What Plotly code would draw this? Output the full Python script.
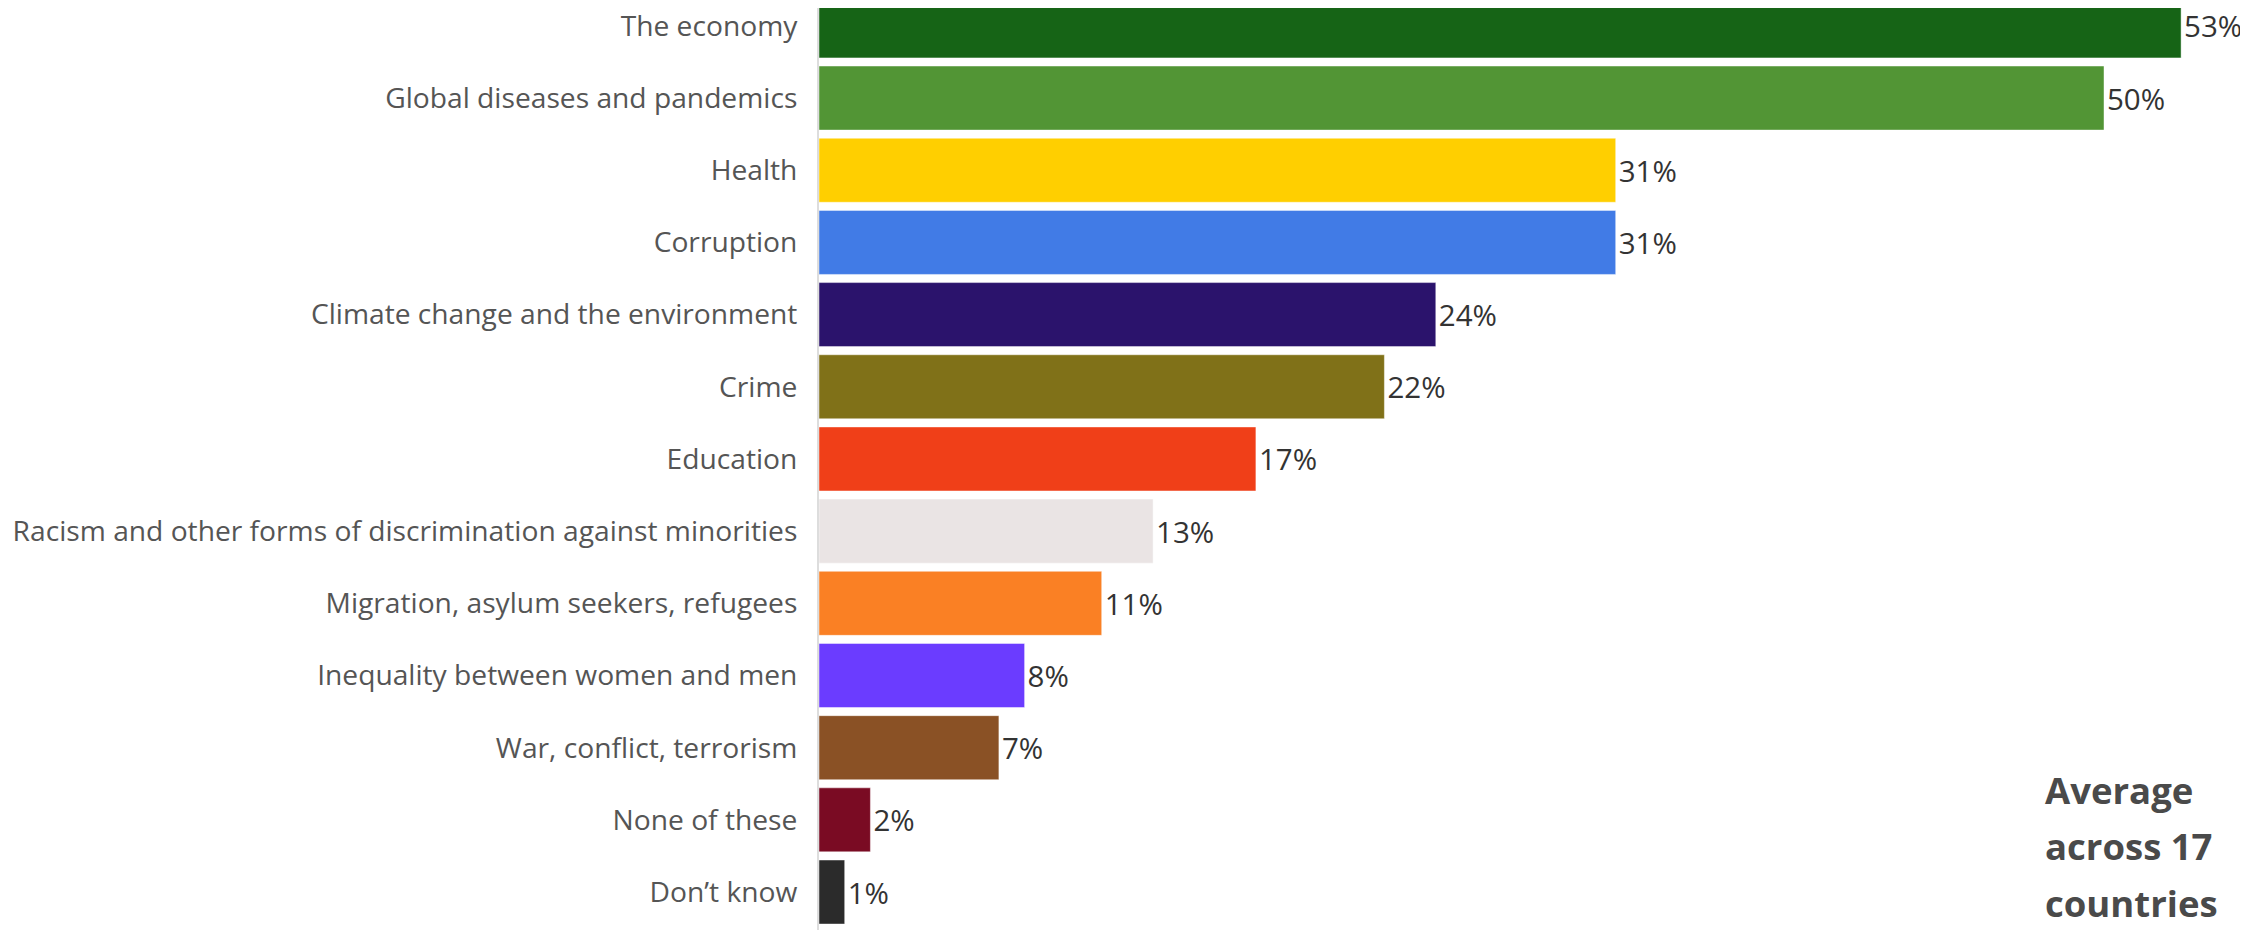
import plotly.graph_objects as go

categories = [
    "The economy",
    "Global diseases and pandemics",
    "Health",
    "Corruption",
    "Climate change and the environment",
    "Crime",
    "Education",
    "Racism and other forms of discrimination against minorities",
    "Migration, asylum seekers, refugees",
    "Inequality between women and men",
    "War, conflict, terrorism",
    "None of these",
    "Don\u2019t know",
]
values = [53, 50, 31, 31, 24, 22, 17, 13, 11, 8, 7, 2, 1]
colors = [
    "#166416", "#529535", "#FFCF00", "#417BE6", "#2B136C", "#807118",
    "#F03F18", "#EAE4E4", "#FA8024", "#6B3CFF", "#8A5125", "#7A0B23", "#2B2B2B",
]
note_lines = ["Average", "across 17", "countries"]

# page body has an 8px default margin; size the figure to fill the rest of the window
OFF = 8
W, H = 2248 - OFF, 930 - OFF
left = 819 - OFF
plot_w = W - left

fig = go.Figure(go.Bar(
    x=values,
    y=categories,
    orientation="h",
    marker=dict(color=colors, line=dict(color="rgba(255,255,255,0.45)", width=1)),
    text=[f"{v}%" for v in values],
    textposition="outside",
    textfont=dict(family="Open Sans", size=29.5, color="#333333"),
    cliponaxis=False,
    hoverinfo="skip",
))

px_per_unit = 25.7
row_px = 72.18
fig.update_layout(
    width=W, height=H,
    margin=dict(l=left, r=0, t=0, b=0, pad=0, autoexpand=False),
    paper_bgcolor="white", plot_bgcolor="white",
    bargap=0.113,
    showlegend=False,
    xaxis=dict(range=[0, plot_w / px_per_unit], visible=False, fixedrange=True,
               automargin=False),
    yaxis=dict(
        type="category",
        categoryorder="array", categoryarray=categories,
        range=[12.526, 12.526 - H / row_px],
        showgrid=False, zeroline=False, automargin=False,
        showline=True, linecolor="#dddddd", linewidth=2,
        ticks="outside", ticklen=14, tickcolor="rgba(0,0,0,0)",
        tickfont=dict(family="Open Sans", size=28.2, color="#555555"),
        fixedrange=True,
    ),
)

baselines = [802, 858, 915]
for line, b in zip(note_lines, baselines):
    fig.add_annotation(
        text=f"<b>{line}</b>",
        xref="paper", yref="paper",
        x=(2043 - OFF - left) / plot_w, xanchor="left",
        y=1 - (b - 12 - OFF) / H, yanchor="middle",
        showarrow=False,
        font=dict(family="Open Sans", size=36.5, color="#4a4a4a"),
        align="left",
    )

fig.write_html("out.html")
